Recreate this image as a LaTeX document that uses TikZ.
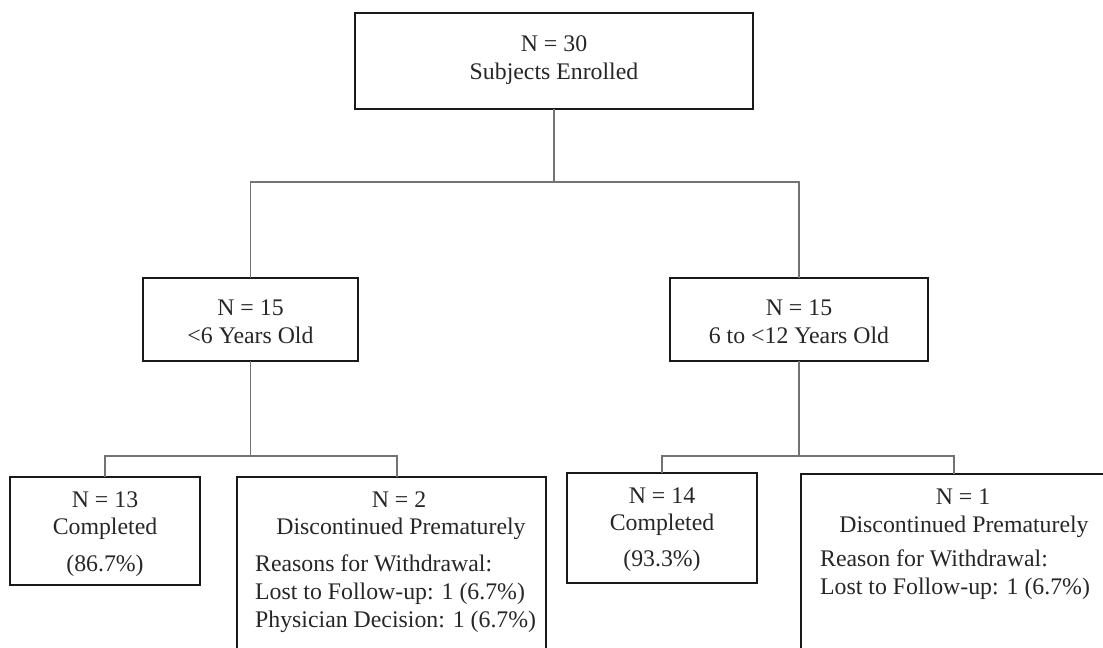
\documentclass[tikz,border=0pt]{standalone}
\usepackage{fontspec}
\setmainfont{Liberation Serif}
\begin{document}
\begin{tikzpicture}[x=1bp,y=-1bp,
  box/.style={draw=black!90, line width=1.2bp, rectangle, inner sep=0pt, outer sep=0pt},
  txt/.style={font=\fontsize{23.8bp}{27bp}\selectfont, text=black!85, inner sep=0pt, anchor=base},
  txtl/.style={txt, anchor=base west},
  link/.style={draw=black!55, line width=1.2bp}]
\useasboundingbox (0,0) rectangle (1103,648);

% boxes
\node[box, minimum width=398bp, minimum height=96bp]  (root)  at (554,61) {};
\node[box, minimum width=215bp, minimum height=83bp]  (young) at (250.5,319.5) {};
\node[box, minimum width=258bp, minimum height=83bp]  (old)   at (799,319.5) {};
\node[box, minimum width=190bp, minimum height=108bp] (ycomp) at (105,531) {};
\node[box, minimum width=309bp, minimum height=193bp] (ydisc) at (391.5,573.5) {};
\node[box, minimum width=190bp, minimum height=110bp] (ocomp) at (662,528) {};
\node[box, minimum width=314bp, minimum height=196bp] (odisc) at (958,572) {};

% bus levels
\coordinate (bus0) at (0,182);
\coordinate (bus1) at (0,456);

% connectors
\draw[link] (root.south) -- (root.south |- bus0);
\draw[link] (root.south |- bus0) -| (young.north);
\draw[link] (root.south |- bus0) -| (old.north);
\draw[link] (young.south) -- (young.south |- bus1);
\draw[link] (young.south |- bus1) -| (ycomp.north);
\draw[link] (young.south |- bus1) -| ([xshift=5.5bp]ydisc.north);
\draw[link] (old.south) -- (old.south |- bus1);
\draw[link] (old.south |- bus1) -| (ocomp.north);
\draw[link] (old.south |- bus1) -| ([xshift=-4bp]odisc.north);

% texts
\node[txt] (t1) at (554,52) {N = 30};
\node[txt] (t2) at (554,80) {Subjects Enrolled};

\node[txt] (t3) at (250.5,316) {N = 15};
\node[txt] (t4) at (250.5,343) {<6 Years Old};

\node[txt] (t5) at (799,316) {N = 15};
\node[txt] (t6) at (799,343) {6 to <12 Years Old};

\node[txt] (t7) at (105,507) {N = 13};
\node[txt] (t8) at (105,534) {Completed};
\node[txt] (t9) at (105,571) {(86.7\%)};

\node[txt] (t10) at (399,507) {N = 2};
\node[txt] (t11) at (401,534) {Discontinued Prematurely};
\node[txtl] (t12) at (255,571) {Reasons for Withdrawal:};
\node[txtl] (t13) at (255,599) {Lost to Follow-up: 1 (6.7\%)};
\node[txtl] (t14) at (255,627) {Physician Decision: 1 (6.7\%)};

\node[txt] (t15) at (662,503) {N = 14};
\node[txt] (t16) at (662,530) {Completed};
\node[txt] (t17) at (662,566) {(93.3\%)};

\node[txt] (t18) at (963,504) {N = 1};
\node[txt] (t19) at (964,532) {Discontinued Prematurely};
\node[txtl] (t20) at (820,566) {Reason for Withdrawal:};
\node[txtl] (t21) at (820,594) {Lost to Follow-up: 1 (6.7\%)};
\end{tikzpicture}
\end{document}
